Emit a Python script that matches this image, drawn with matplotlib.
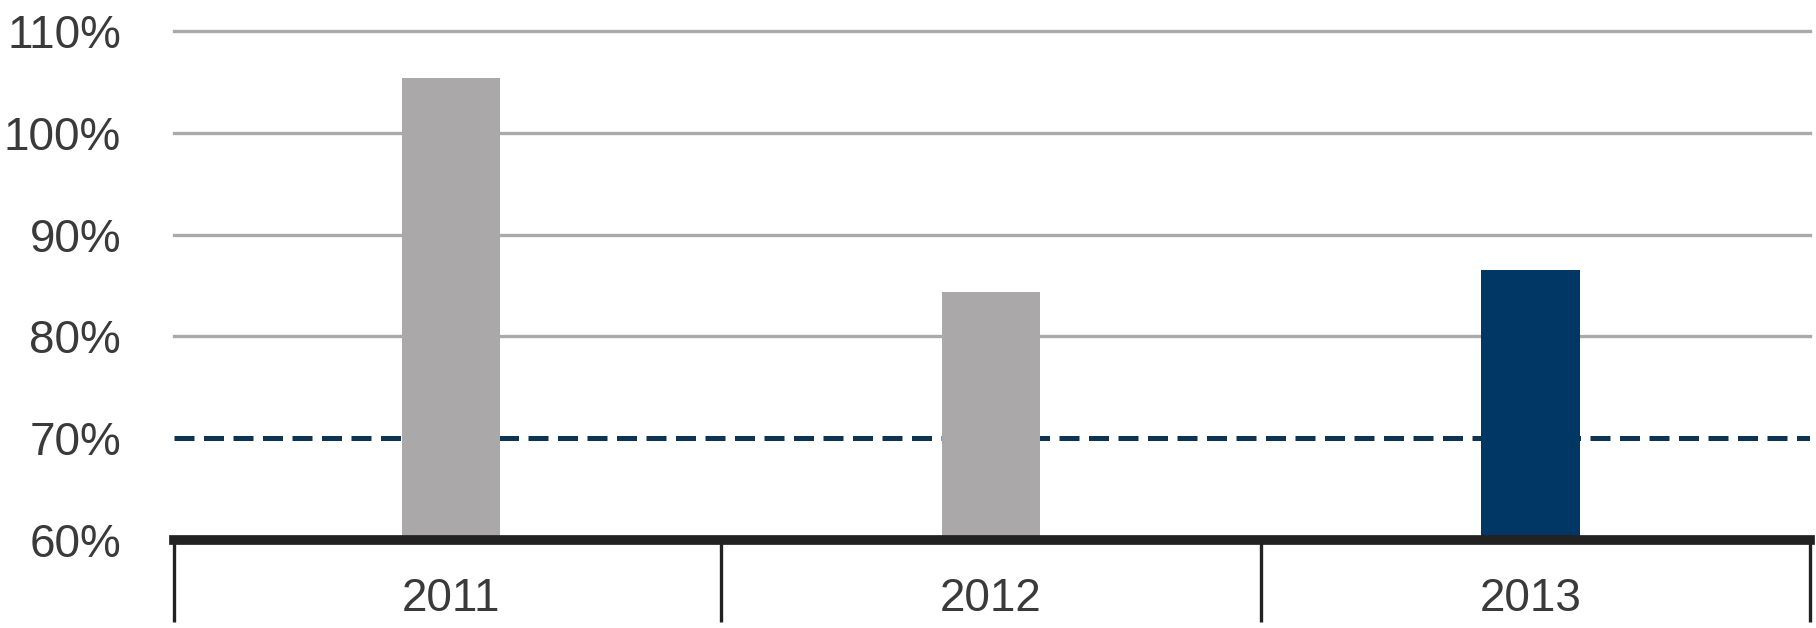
import matplotlib.pyplot as plt
import matplotlib.transforms as mtransforms

# Dades del gràfic
anys = ["2011", "2012", "2013"]
valors = [105.4, 84.4, 86.5]
colors_barres = ["#aba8a9", "#aba8a9", "#003764"]
objectiu = 70
ticks_y = [60, 70, 80, 90, 100, 110]
separadors = [0.5, 1.5]

plt.rcParams['font.family'] = ['Liberation Sans', 'DejaVu Sans']

fig = plt.figure(figsize=(18.16, 6.28), dpi=100)
ax = fig.add_axes([0.0958, 0.140, 0.9009, 0.8106])

posicions = list(range(len(anys)))
ax.bar(posicions, valors, width=0.183, color=colors_barres, linewidth=0, zorder=3)

# Línies de la graella (excepte el 70%, que és la línia d'objectiu)
for t in ticks_y[2:]:
    ax.axhline(t, color="#aaaaaa", lw=2.4, zorder=1, clip_on=False)
ax.axhline(objectiu, color="#0d3553", lw=3.6, dashes=(4, 1.9), zorder=2)

ax.set_xlim(-0.513, 2.517)
ax.set_ylim(60, 110)
ax.set_yticks(ticks_y)
ax.set_yticklabels([f"{t}%" for t in ticks_y], fontsize=33, color="#3a3a3a")
ax.tick_params(axis="y", length=0, pad=38)
ax.set_xticks([])

for s in ["top", "right", "left"]:
    ax.spines[s].set_visible(False)
ax.spines["bottom"].set_linewidth(7)
ax.spines["bottom"].set_color("#222222")
ax.spines["bottom"].set_zorder(4)

# Taula de categories sota l'eix
trans = mtransforms.blended_transform_factory(ax.transData, ax.transAxes)
xmin, xmax = ax.get_xlim()
for x in [xmin] + separadors + [xmax]:
    ax.plot([x, x], [0, -0.161], color="#222222", lw=2.4, transform=trans,
            clip_on=False, solid_capstyle="butt")
for p, a in zip(posicions, anys):
    ax.text(p, -0.116, a, transform=trans, ha="center", va="center",
            fontsize=33, color="#3a3a3a")

fig.savefig("out.png", dpi=100, facecolor="white")
